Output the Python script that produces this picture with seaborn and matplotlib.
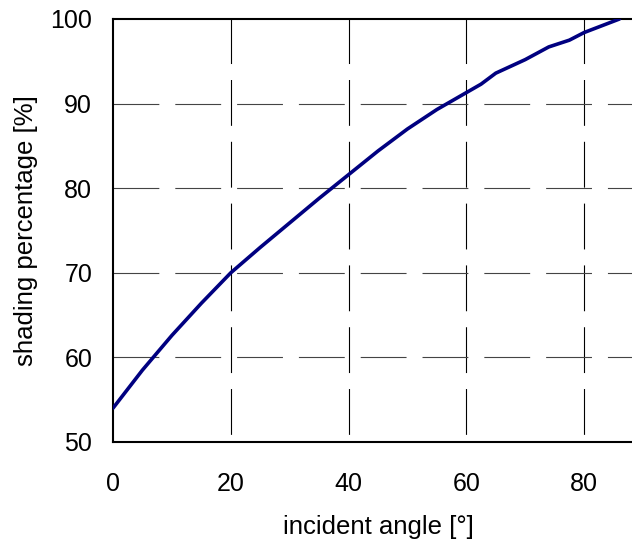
import pandas as pd
import matplotlib.pyplot as plt
import seaborn as sns

# incident angle [deg] vs. shading percentage [%]
angle = [0, 5, 10, 15, 20, 25, 30, 35, 40, 45, 50, 55, 60, 62.5, 65, 70, 74, 77.5, 80, 86]
shading = [54.0, 58.5, 62.6, 66.4, 70.0, 73.0, 75.9, 78.8, 81.6, 84.4, 87.0, 89.3,
           91.3, 92.3, 93.6, 95.2, 96.7, 97.5, 98.4, 100.0]
xticks = [0, 20, 40, 60, 80]
yticks = [50, 60, 70, 80, 90, 100]

df = pd.DataFrame({'angle': angle, 'shading': shading})

sns.set_style('white')
plt.rcParams['font.family'] = ['Liberation Sans', 'DejaVu Sans']
plt.rcParams['lines.scale_dashes'] = False

fig = plt.figure(figsize=(6.32, 5.4), dpi=100)
ax = fig.add_axes([113 / 632, 98 / 540, 530 / 632, 423 / 540])

ax.set_xlim(0, 90)
ax.set_ylim(50, 100)
ax.set_xticks(xticks)
ax.set_yticks(yticks)

# dashed grid, long dashes
for x in xticks[1:]:
    ax.axvline(x, color='black', lw=0.8, ls=(39, (33, 11.5)), zorder=1)
for y in yticks[1:-1]:
    ax.axhline(y, color='#444444', lw=0.8, ls=(0, (33, 11.5)), zorder=1)

sns.lineplot(x='angle', y='shading', data=df, color='#000080', linewidth=2.6, ax=ax, zorder=3)

for side in ['left', 'top', 'bottom']:
    ax.spines[side].set_color('black')
    ax.spines[side].set_linewidth(1.5)
ax.spines['right'].set_visible(False)

ax.tick_params(axis='both', length=0, labelsize=18, colors='black')
ax.tick_params(axis='x', pad=21.5)
ax.tick_params(axis='y', pad=15)
ax.set_xlabel('incident angle [°]', fontsize=18.5, labelpad=14, color='black')
ax.set_ylabel('shading percentage [%]', fontsize=18.5, labelpad=9, color='black')

plt.savefig('out.png', dpi=100)
